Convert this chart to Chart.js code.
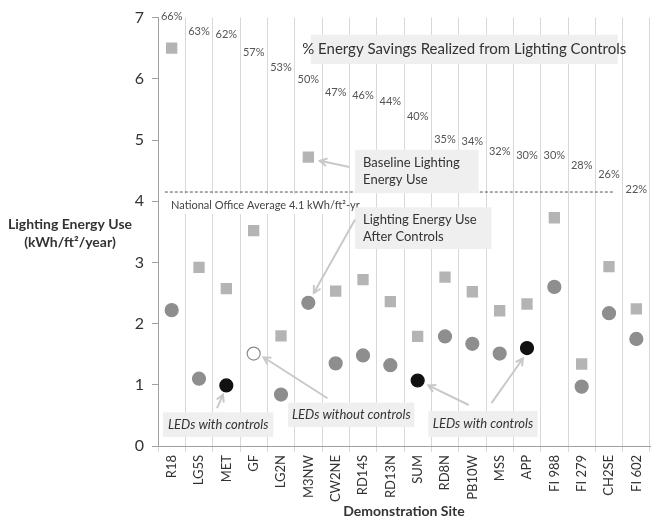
<!DOCTYPE html>
<html>
<head>
<meta charset="utf-8">
<script src="https://cdn.jsdelivr.net/npm/chart.js@4.4.1/dist/chart.umd.min.js"></script>
<style>
  html, body { margin: 0; padding: 0; background: #fff; }
  #wrap { width: 658px; height: 522px; position: relative; }
</style>
</head>
<body>
<div id="wrap"><canvas id="chart"></canvas></div>
<script>
// data
const sites = ['R18', 'LG5S', 'MET', 'GF', 'LG2N', 'M3NW', 'CW2NE', 'RD14S', 'RD13N', 'SUM', 'RD8N', 'PB10W', 'MSS', 'APP', 'FI 988', 'FI 279', 'CH2SE', 'FI 602'];
const baselineUse = [6.50, 2.92, 2.57, 3.52, 1.80, 4.72, 2.53, 2.72, 2.36, 1.79, 2.76, 2.52, 2.21, 2.32, 3.73, 1.34, 2.93, 2.24];
const afterControlsUse = [2.22, 1.10, 0.99, 1.51, 0.84, 2.34, 1.35, 1.48, 1.32, 1.07, 1.79, 1.67, 1.51, 1.60, 2.60, 0.97, 2.17, 1.75];
const savingsPct = [66, 63, 62, 57, 53, 50, 47, 46, 44, 40, 35, 34, 32, 30, 30, 28, 26, 22];
const savingsLabelY = [7.02, 6.78, 6.72, 6.43, 6.19, 5.99, 5.78, 5.72, 5.63, 5.38, 5.01, 4.97, 4.82, 4.74, 4.74, 4.58, 4.44, 4.20];
const ledWithControls = ['MET', 'SUM', 'APP'];
const ledWithoutControls = ['GF'];
const nationalAvgLine = 4.15;
const yTicks = [0, 1, 2, 3, 4, 5, 6, 7];

const FONT = 'Lato, "Open Sans", sans-serif';

const afterFill = sites.map(s => ledWithControls.includes(s) ? '#111111' : (ledWithoutControls.includes(s) ? '#ffffff' : '#8e8e8e'));
const afterBorder = sites.map(s => ledWithControls.includes(s) ? '#111111' : (ledWithoutControls.includes(s) ? '#8a8a8a' : '#8e8e8e'));

// boxes and arrows, in data units (category index, y value)
const boxes = [
  { x0: 5.09, x1: 16.32, y0: 6.72, y1: 6.24, fill: '#efefef', lines: ['% Energy Savings Realized from Lighting Controls'], align: 'center', size: 15, style: '' },
  { x0: 6.71, x1: 11.23, y0: 4.84, y1: 4.13, fill: '#efefef', lines: ['Baseline Lighting', 'Energy Use'], align: 'left', size: 13, style: '' },
  { x0: 6.71, x1: 11.70, y0: 3.90, y1: 3.22, fill: '#efefef', lines: ['Lighting Energy Use', 'After Controls'], align: 'left', size: 13, style: '' },
  { x0: -0.32, x1: 3.72, y0: 0.55, y1: 0.15, fill: '#efefef', lines: ['LEDs with controls'], align: 'center', size: 13, style: 'italic ' },
  { x0: 4.26, x1: 8.88, y0: 0.71, y1: 0.31, fill: '#efefef', lines: ['LEDs without controls'], align: 'center', size: 13, style: 'italic ' },
  { x0: 9.39, x1: 13.39, y0: 0.57, y1: 0.15, fill: '#efefef', lines: ['LEDs with controls'], align: 'center', size: 13, style: 'italic ' }
];
const arrows = [
  [6.50, 4.56, 5.42, 4.66],
  [6.71, 3.70, 5.20, 2.50],
  [1.66, 0.62, 1.88, 0.84],
  [5.70, 0.78, 3.36, 1.45],
  [10.87, 0.67, 9.39, 0.99],
  [11.70, 0.70, 12.85, 1.43]
];

const annotate = {
  id: 'annotate',
  beforeDatasetsDraw(chart) {
    const ctx = chart.ctx, xs = chart.scales.x, ys = chart.scales.y;
    const px = v => xs.getPixelForValue(v), py = v => ys.getPixelForValue(v);
    ctx.save();
    // national average line + label
    const ly = py(nationalAvgLine);
    ctx.fillStyle = '#ffffff';
    ctx.fillRect(px(-0.5) + 3, ly + 2, 185, 20);
    ctx.strokeStyle = '#555';
    ctx.lineWidth = 1;
    ctx.setLineDash([3, 2]);
    ctx.beginPath();
    ctx.moveTo(px(-0.25), ly);
    ctx.lineTo(px(16.2), ly);
    ctx.stroke();
    ctx.setLineDash([]);
    ctx.fillStyle = '#444';
    ctx.font = '11px ' + FONT;
    ctx.textAlign = 'left';
    ctx.textBaseline = 'middle';
    ctx.fillText('National Office Average 4.1 kWh/ft\u00b2-yr', px(-0.5) + 13, ly + 13);

    // percent labels
    ctx.font = '11px ' + FONT;
    ctx.textAlign = 'center';
    ctx.fillStyle = '#555';
    savingsPct.forEach((p, i) => ctx.fillText(p + '%', px(i), py(savingsLabelY[i])));

    // boxes
    boxes.forEach(b => {
      const x0 = px(b.x0), x1 = px(b.x1), y0 = py(b.y0), y1 = py(b.y1);
      ctx.fillStyle = b.fill;
      ctx.fillRect(x0, y0, x1 - x0, y1 - y0);
      ctx.fillStyle = '#333';
      ctx.font = b.style + b.size + 'px ' + FONT;
      ctx.textAlign = b.align;
      const lh = b.size * 1.35;
      const cy = (y0 + y1) / 2 - (b.lines.length - 1) * lh / 2;
      b.lines.forEach((t, k) => {
        const tx = b.align === 'center' ? (x0 + x1) / 2 : x0 + 8;
        ctx.fillText(t, tx, cy + k * lh);
      });
    });

    // y axis title, horizontal
    ctx.fillStyle = '#333';
    ctx.font = 'bold 14px ' + FONT;
    ctx.textAlign = 'center';
    ctx.fillText('Lighting Energy Use', 70, py(3.62));
    ctx.fillText('(kWh/ft\u00b2/year)', 70, py(3.32));
    ctx.restore();
  },
  afterDatasetsDraw(chart) {
    const ctx = chart.ctx, xs = chart.scales.x, ys = chart.scales.y;
    const px = v => xs.getPixelForValue(v), py = v => ys.getPixelForValue(v);
    ctx.save();
    ctx.strokeStyle = '#c9c9c9';
    ctx.lineWidth = 2;
    arrows.forEach(a => {
      const x0 = px(a[0]), y0 = py(a[1]), x1 = px(a[2]), y1 = py(a[3]);
      const ang = Math.atan2(y1 - y0, x1 - x0);
      ctx.beginPath();
      ctx.moveTo(x0, y0);
      ctx.lineTo(x1, y1);
      ctx.moveTo(x1 - 8 * Math.cos(ang - 0.5), y1 - 8 * Math.sin(ang - 0.5));
      ctx.lineTo(x1, y1);
      ctx.lineTo(x1 - 8 * Math.cos(ang + 0.5), y1 - 8 * Math.sin(ang + 0.5));
      ctx.stroke();
    });
    ctx.restore();
  }
};

new Chart(document.getElementById('chart'), {
  type: 'line',
  data: {
    labels: sites,
    datasets: [
      {
        label: 'Baseline Lighting Energy Use',
        data: baselineUse,
        showLine: false,
        pointStyle: 'rect',
        pointRadius: 8,
        pointBackgroundColor: '#b4b4b4',
        pointBorderColor: '#b4b4b4',
        pointBorderWidth: 0
      },
      {
        label: 'Lighting Energy Use After Controls',
        data: afterControlsUse,
        showLine: false,
        pointStyle: 'circle',
        pointRadius: 6.5,
        pointBackgroundColor: afterFill,
        pointBorderColor: afterBorder,
        pointBorderWidth: 1.2
      }
    ]
  },
  options: {
    responsive: true,
    maintainAspectRatio: false,
    animation: false,
    layout: { padding: { top: 7, right: 0, left: 0, bottom: 0 } },
    plugins: { legend: { display: false }, tooltip: { enabled: false } },
    scales: {
      x: {
        offset: true,
        grid: { offset: true, color: '#d8d8d8', drawTicks: true, tickLength: 6 },
        border: { color: '#a0a0a0' },
        ticks: { color: '#333', font: { family: FONT, size: 13 }, maxRotation: 90, minRotation: 90, padding: 3 },
        title: { display: true, text: 'Demonstration Site', color: '#333', font: { family: FONT, size: 14, weight: 'bold' }, padding: { top: 0, bottom: 2 } },
        afterFit(scale) { scale.height = 76; }
      },
      y: {
        min: 0,
        max: 7,
        afterBuildTicks(scale) { scale.ticks = yTicks.map(v => ({ value: v })); },
        grid: { drawOnChartArea: false, drawTicks: true, tickLength: 6, color: '#a0a0a0' },
        border: { color: '#a0a0a0' },
        ticks: { color: '#333', font: { family: FONT, size: 16 }, padding: 8 },
        afterFit(scale) { scale.width = 158; }
      }
    }
  },
  plugins: [annotate]
});
</script>
</body>
</html>
